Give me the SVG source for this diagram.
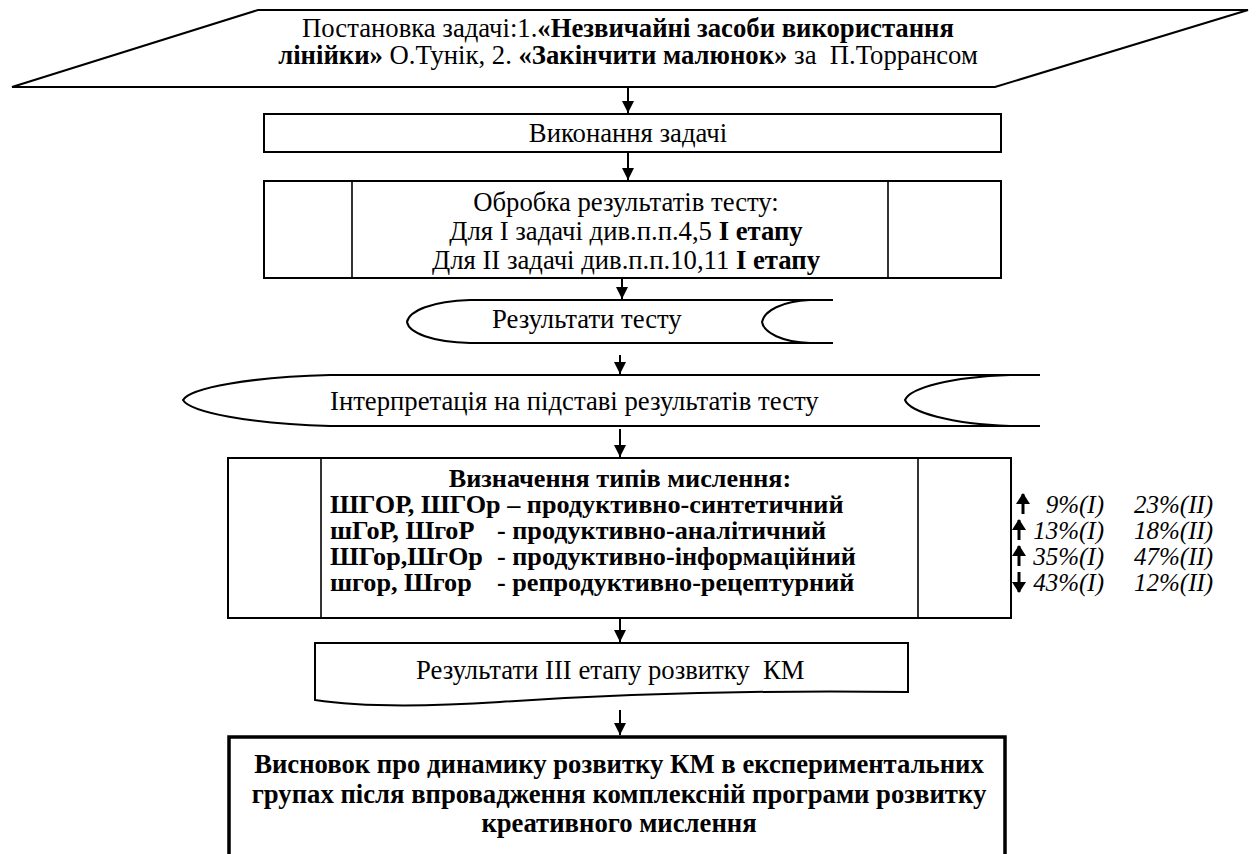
<svg xmlns="http://www.w3.org/2000/svg" width="1256" height="854" viewBox="0 0 1256 854" font-family="'Liberation Serif', 'Times New Roman', serif">
  <defs>
    <style>
      .shape{fill:#fff;stroke:#000;stroke-width:2}
      .thick{fill:#fff;stroke:#000;stroke-width:3.5}
      .line{fill:none;stroke:#000;stroke-width:1.6}
      .edge{fill:none;stroke:#000;stroke-width:2}
      .t{font-size:26.7px;fill:#000}
      .s{font-size:26.2px}
      .p{font-size:25px;font-style:italic;fill:#000}
      .c{text-anchor:middle}
      .e{text-anchor:end}
      .b{font-weight:bold}
      .conn{fill:none;stroke:#000;stroke-width:2;marker-end:url(#ah)}
      .mini{fill:none;stroke:#000;stroke-width:3;marker-end:url(#ahs)}
    </style>
    <marker id="ah" viewBox="0 0 12 12" markerUnits="userSpaceOnUse" markerWidth="12" markerHeight="12" refX="12" refY="6" orient="auto">
      <path d="M0,0 L12,6 L0,12 Z" fill="#000"/>
    </marker>
    <marker id="ahs" viewBox="0 0 11 14" markerUnits="userSpaceOnUse" markerWidth="11" markerHeight="14" refX="10" refY="7" orient="auto">
      <path d="M0,0 L11,7 L0,14 Z" fill="#000"/>
    </marker>
  </defs>
  <rect width="1256" height="854" fill="#fff"/>

  <!-- input: task statement -->
  <g id="task">
    <polygon class="shape" points="258,10 1248,10 995,87 12,87"/>
    <text class="t c" x="628" y="37" font-family="Liberation Serif">Постановка задачі:1.<tspan class="b">«Незвичайні засоби використання</tspan></text>
    <text class="t c" x="628" y="64" font-family="Liberation Serif"><tspan class="b">лінійки»</tspan> О.Тунік, 2. <tspan class="b">«Закінчити малюнок»</tspan> за&#160; П.Торрансом</text>
  </g>

  <!-- process -->
  <g id="execute">
    <rect class="shape" x="264" y="114" width="737" height="38"/>
    <text class="t c" x="628" y="142" font-family="Liberation Serif">Виконання задачі</text>
  </g>

  <!-- predefined process: scoring -->
  <g id="scoring">
    <rect class="shape" x="264" y="181" width="737" height="97"/>
    <line class="line" x1="352" y1="181" x2="352" y2="278"/>
    <line class="line" x1="888" y1="181" x2="888" y2="278"/>
    <text class="t c" x="626" y="211" font-family="Liberation Serif">Обробка результатів тесту:</text>
    <text class="t c" x="626" y="240" font-family="Liberation Serif">Для І задачі див.п.п.4,5 <tspan class="b">І етапу</tspan></text>
    <text class="t c" x="626" y="269" font-family="Liberation Serif">Для ІІ задачі див.п.п.10,11 <tspan class="b">І етапу</tspan></text>
  </g>

  <!-- display: test results -->
  <g id="results">
    <path class="edge" d="M833,300 L810,300 C782,301 764,311 762,322 C764,333 782,342 810,343 L833,343"/>
    <path class="edge" d="M810,300 L470,300 C432,301 409,311 407,322 C409,333 432,342 470,343 L810,343"/>
    <text class="t" x="492" y="328" font-family="Liberation Serif">Результати тесту</text>
  </g>

  <!-- display: interpretation -->
  <g id="interpretation">
    <path class="edge" d="M1040,375 L1010,375 C950,377 910,388 905,400 C910,412 950,424 1010,426 L1040,426"/>
    <path class="edge" d="M1010,375 L330,375 C250,377 190,388 183,400 C190,412 250,424 330,426 L1010,426"/>
    <text class="t" x="330" y="410" font-family="Liberation Serif">Інтерпретація на підставі результатів тесту</text>
  </g>

  <!-- predefined process: thinking types -->
  <g id="types">
    <rect class="shape" x="228" y="458" width="783" height="160"/>
    <line class="line" x1="321" y1="458" x2="321" y2="618"/>
    <line class="line" x1="918" y1="458" x2="918" y2="618"/>
    <text class="t s b c" x="620" y="487" font-family="Liberation Serif">Визначення типів мислення:</text>
    <text class="t s b" x="330" y="513" font-family="Liberation Serif">ШГОР, ШГОр – продуктивно-синтетичний</text>
    <text class="t s b" y="539" font-family="Liberation Serif"><tspan x="330">шГоР, ШгоР</tspan><tspan x="497">- продуктивно-аналітичний</tspan></text>
    <text class="t s b" y="565" font-family="Liberation Serif"><tspan x="330">ШГор,ШгОр</tspan><tspan x="497">- продуктивно-інформаційний</tspan></text>
    <text class="t s b" y="591" font-family="Liberation Serif"><tspan x="330">шгор, Шгор</tspan><tspan x="497">- репродуктивно-рецептурний</tspan></text>
  </g>

  <!-- share changes per type -->
  <g id="shares">
    <line class="mini" x1="1023" y1="514" x2="1023" y2="494"/>
    <line class="mini" x1="1019" y1="540" x2="1019" y2="520"/>
    <line class="mini" x1="1019" y1="566" x2="1019" y2="546"/>
    <line class="mini" x1="1019" y1="572" x2="1019" y2="592"/>
    <text class="p e" x="1104" y="513" font-family="Liberation Serif">9%(I)</text>
    <text class="p e" x="1104" y="539" font-family="Liberation Serif">13%(I)</text>
    <text class="p e" x="1104" y="565" font-family="Liberation Serif">35%(I)</text>
    <text class="p e" x="1104" y="591" font-family="Liberation Serif">43%(I)</text>
    <text class="p" x="1134" y="513" font-family="Liberation Serif">23%(II)</text>
    <text class="p" x="1134" y="539" font-family="Liberation Serif">18%(II)</text>
    <text class="p" x="1134" y="565" font-family="Liberation Serif">47%(II)</text>
    <text class="p" x="1134" y="591" font-family="Liberation Serif">12%(II)</text>
  </g>

  <!-- document: stage III results -->
  <g id="stage3">
    <path class="shape" d="M315,643 L908,643 L908,692 C760,690 620,694 500,702 C420,707 360,707 315,700 Z"/>
    <text class="t" x="416" y="679" font-family="Liberation Serif">Результати ІІІ етапу розвитку&#160; КМ</text>
  </g>

  <!-- conclusion -->
  <g id="conclusion">
    <rect class="thick" x="229" y="737" width="776" height="119"/>
    <text class="t b c" x="619" y="773" font-family="Liberation Serif">Висновок про динамику розвитку КМ в експериментальних</text>
    <text class="t b c" x="619" y="803" font-family="Liberation Serif">групах після впровадження комплексній програми розвитку</text>
    <text class="t b c" x="619" y="832" font-family="Liberation Serif">креативного мислення</text>
  </g>

  <!-- connectors -->
  <g id="connectors">
    <line class="conn" x1="628" y1="88" x2="628" y2="113"/>
    <line class="conn" x1="628" y1="153" x2="628" y2="180"/>
    <line class="conn" x1="622" y1="279" x2="622" y2="299"/>
    <line class="conn" x1="620" y1="355" x2="620" y2="374"/>
    <line class="conn" x1="620" y1="429" x2="620" y2="457"/>
    <line class="conn" x1="620" y1="619" x2="620" y2="642"/>
    <line class="conn" x1="620" y1="710" x2="620" y2="735"/>
  </g>
</svg>
